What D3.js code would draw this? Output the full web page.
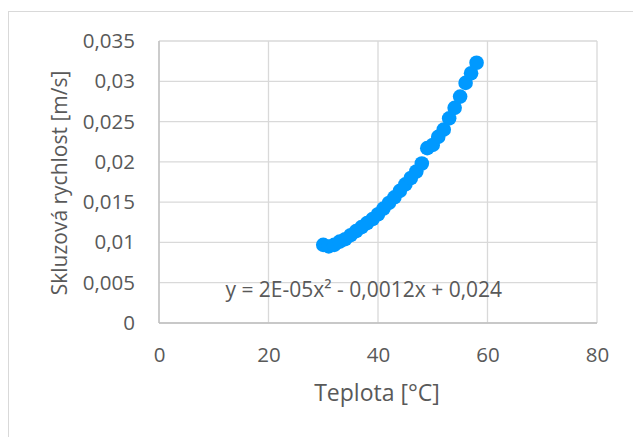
<!DOCTYPE html>
<html><head><meta charset="utf-8">
<script src="https://cdn.jsdelivr.net/npm/d3@7"></script>
<style>
html,body{margin:0;padding:0;background:#fff;}
text{font-family:"Open Sans",sans-serif;fill:#595959;}
</style></head>
<body><svg id="c" width="633" height="437"></svg>
<script>
const temperature = [30,31,32,33,34,35,36,37,38,39,40,41,42,43,44,45,46,47,48,49,50,51,52,53,54,55,56,57,58];
const slipSpeed = [0.0097,0.0095,0.0097,0.0101,0.0104,0.0109,0.0114,0.0119,0.0124,0.0129,0.0135,0.0142,0.0149,0.0156,0.0164,0.0172,0.0180,0.0188,0.0198,0.0217,0.0221,0.0231,0.0240,0.0254,0.0267,0.0281,0.0298,0.0310,0.0323];
const xTicks = [0,20,40,60,80];
const yTicks = [0,0.005,0.01,0.015,0.02,0.025,0.03,0.035];
const xTitle = "Teplota [°C]";
const yTitle = "Skluzová rychlost [m/s]";
const equation = "y = 2E-05x² - 0,0012x + 0,024";

const svg = d3.select("#c");
const L=159,R=597,T=41,B=323;
const x = d3.scaleLinear().domain([0,80]).range([L,R]);
const y = d3.scaleLinear().domain([0,0.035]).range([B,T]);
const fmt = v => String(+v.toFixed(3)).replace(".",",");

svg.append("rect").attr("x",8.5).attr("y",11.5).attr("width",640).attr("height",440)
  .attr("fill","none").attr("stroke","#d9d9d9").attr("stroke-width",1);

const g = svg.append("g");
g.selectAll(".hg").data(yTicks).join("line")
  .attr("x1",L).attr("x2",R).attr("y1",d=>y(d)).attr("y2",d=>y(d))
  .attr("stroke","#d9d9d9").attr("stroke-width",1.3);
g.selectAll(".vg").data(xTicks).join("line")
  .attr("y1",T).attr("y2",B).attr("x1",d=>x(d)).attr("x2",d=>x(d))
  .attr("stroke","#d9d9d9").attr("stroke-width",1.3);
g.append("line").attr("x1",L).attr("x2",R).attr("y1",B).attr("y2",B).attr("stroke","#bfbfbf").attr("stroke-width",1.3);
g.append("line").attr("x1",L).attr("x2",L).attr("y1",T).attr("y2",B).attr("stroke","#bfbfbf").attr("stroke-width",1.3);

const xa = svg.append("g").attr("transform",`translate(0,${B})`)
  .call(d3.axisBottom(x).tickValues(xTicks).tickSize(0).tickPadding(24).tickFormat(d=>d));
const ya = svg.append("g").attr("transform",`translate(${L},0)`)
  .call(d3.axisLeft(y).tickValues(yTicks).tickSize(0).tickPadding(24).tickFormat(fmt));
[xa,ya].forEach(a=>{a.select(".domain").remove(); a.selectAll("text").attr("font-size",20.5).attr("font-family","Open Sans").attr("fill","#595959");});

svg.append("text").attr("x",377).attr("y",401).attr("text-anchor","middle")
  .attr("font-size",23).text(xTitle);
svg.append("text").attr("transform",`translate(67,${(T+B)/2+1}) rotate(-90)`).attr("text-anchor","middle")
  .attr("font-size",21).text(yTitle);

svg.append("text").attr("x",x(37.4)).attr("y",297).attr("text-anchor","middle")
  .attr("font-size",21).text(equation);

svg.selectAll(".pt").data(temperature).join("circle")
  .attr("cx",d=>x(d)).attr("cy",(d,i)=>y(slipSpeed[i])).attr("r",7.3)
  .attr("fill","#0099ff");
</script></body></html>
